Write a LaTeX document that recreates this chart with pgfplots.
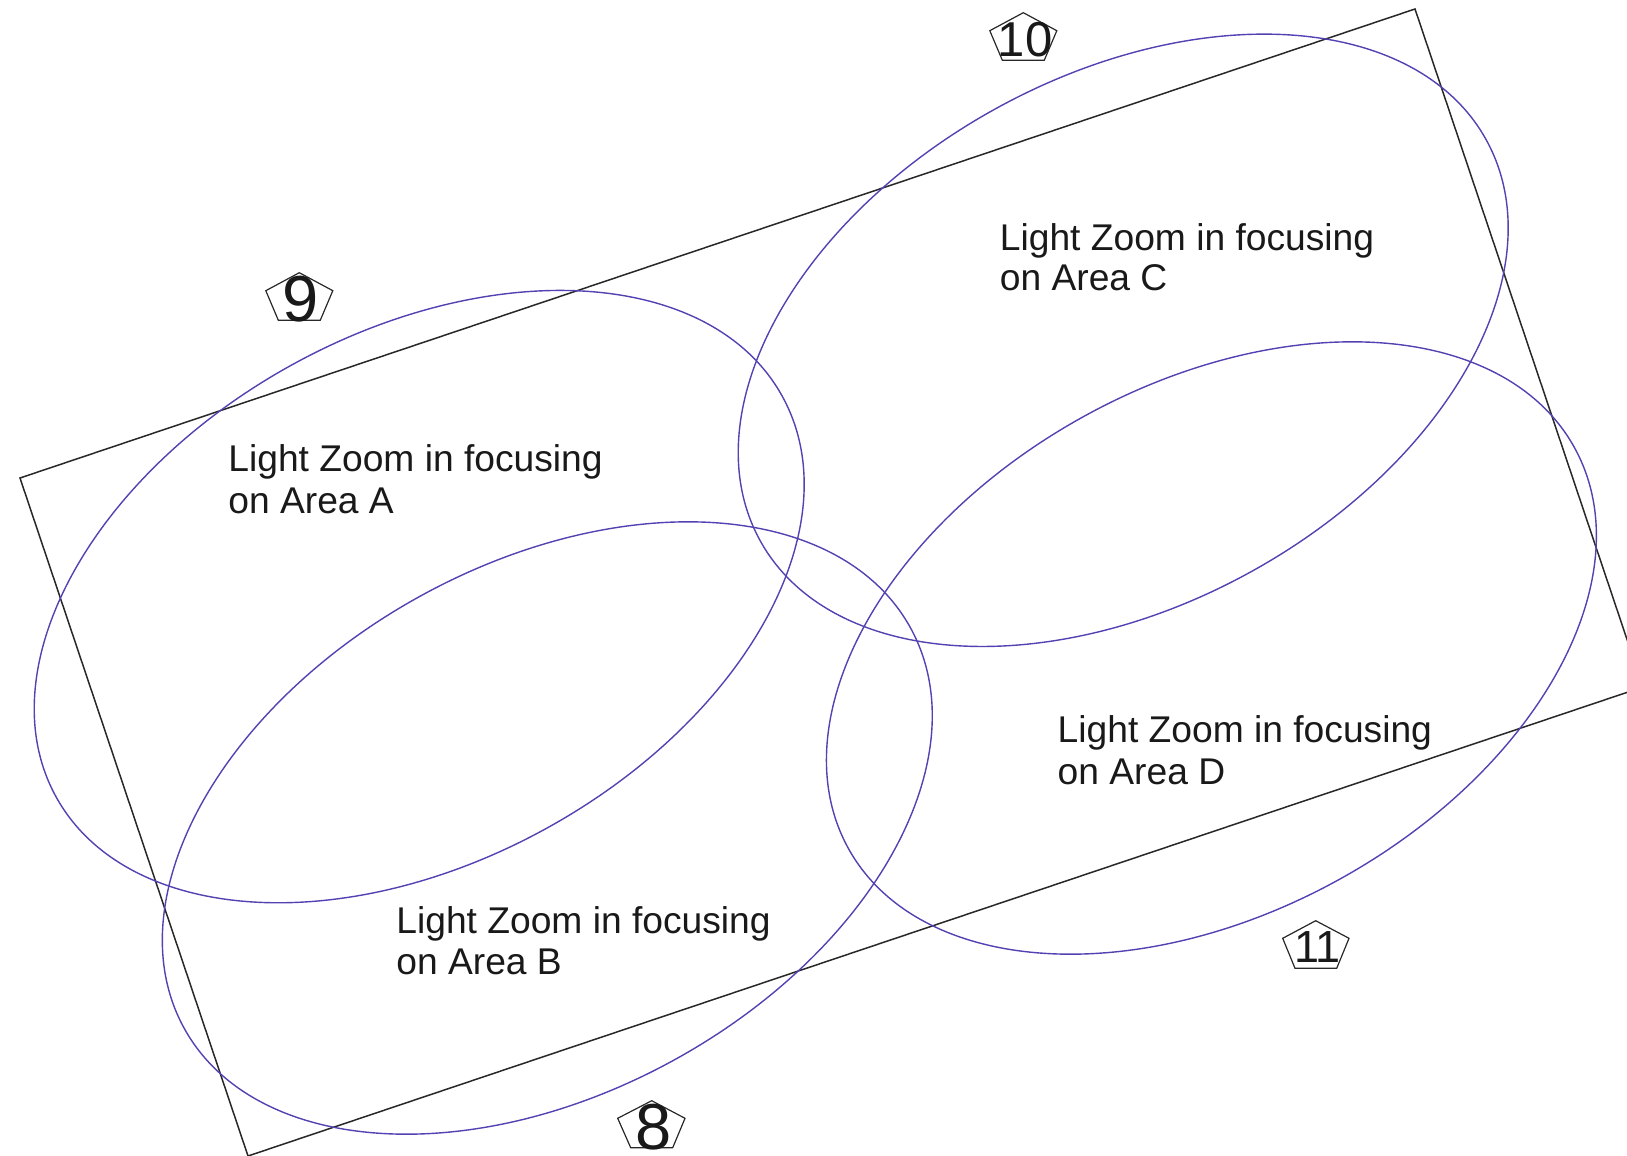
\documentclass[border=0pt]{standalone}
\usepackage{pgfplots}
\pgfplotsset{compat=1.18}
\usepackage{fontspec}
\setmainfont{Liberation Sans}
\definecolor{ell}{RGB}{82,66,178}
\definecolor{edge}{RGB}{40,40,40}
\definecolor{txt}{RGB}{25,25,25}
\begin{document}
\begin{tikzpicture}
\begin{axis}[
  width=813.5pt, height=578pt, scale only axis,
  xmin=0, xmax=1627, ymin=0, ymax=1156,
  y dir=reverse, hide axis, clip=true,
  clip bounding box=upper bound,
]
% rotated rectangle
\addplot[edge, line width=0.75pt, line join=miter] coordinates {(20,478) (1415,9) (1643,687) (248,1156)} -- cycle;
% ellipses
\draw[ell, line width=0.7pt] (axis cs:419.2,596.6) ellipse [x radius=207.35pt, y radius=132.2pt, rotate=28.9];
\draw[ell, line width=0.7pt] (axis cs:547.3,828.0) ellipse [x radius=207.35pt, y radius=132.2pt, rotate=28.9];
\draw[ell, line width=0.7pt] (axis cs:1123.2,340.3) ellipse [x radius=207.35pt, y radius=132.2pt, rotate=28.9];
\draw[ell, line width=0.7pt] (axis cs:1211.4,648.0) ellipse [x radius=207.35pt, y radius=132.2pt, rotate=28.9];
% pentagons
\addplot[edge, line width=0.6pt] coordinates {(299.3,272.7) (332.8,290.7) (320.3,320.2) (278.3,320.2) (265.8,290.7)} -- cycle;
\addplot[edge, line width=0.6pt] coordinates {(1023.3,12.7) (1056.8,30.7) (1044.3,60.2) (1002.3,60.2) (989.8,30.7)} -- cycle;
\addplot[edge, line width=0.6pt] coordinates {(651.7,1100.7) (685,1118.3) (672.7,1147.7) (630.7,1147.7) (617.7,1118.3)} -- cycle;
\addplot[edge, line width=0.6pt] coordinates {(1315.7,920.7) (1349,938.3) (1336.7,968.3) (1295,968.3) (1282.7,938.3)} -- cycle;
% digits
\node[txt, inner sep=0pt, anchor=center, font=\fontsize{32.5}{34}\selectfont] at (axis cs:300.8,299) {9};
\node[txt, inner sep=0pt, anchor=center, font=\fontsize{32.5}{34}\selectfont] at (axis cs:653.3,1127) {8};
\node[txt, inner sep=0pt, anchor=center, font=\fontsize{24.5}{26}\selectfont] at (axis cs:1025,39.5) {10};
\node[txt, inner sep=0pt, anchor=center, font=\fontsize{22.5}{24}\selectfont] at (axis cs:1317.5,947.5) {11};
% labels
\tikzset{lab/.style={txt, inner sep=0pt, anchor=base west, font=\fontsize{18.6}{20}\selectfont}}
\node[lab] at (axis cs:228,471) {Light Zoom in focusing};
\node[lab] at (axis cs:228,513) {on Area A};
\node[lab] at (axis cs:396,933) {Light Zoom in focusing};
\node[lab] at (axis cs:396,974.5) {on Area B};
\node[lab] at (axis cs:999.5,250) {Light Zoom in focusing};
\node[lab] at (axis cs:999.5,290) {on Area C};
\node[lab] at (axis cs:1057.3,742) {Light Zoom in focusing};
\node[lab] at (axis cs:1057.3,784) {on Area D};
\end{axis}
\end{tikzpicture}
\end{document}
